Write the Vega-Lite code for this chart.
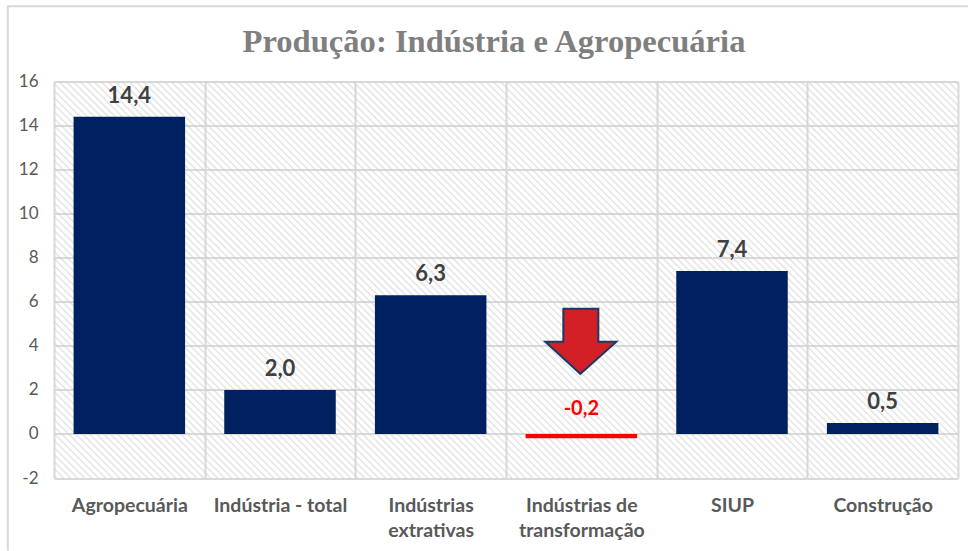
{"$schema":"https://vega.github.io/schema/vega-lite/v6.json","width":904,"height":396.5,"autosize":{"type":"none"},"padding":{"left":54,"top":81.5,"right":10,"bottom":73},"background":"#ffffff","title":{"text":"Produção: Indústria e Agropecuária","font":"Liberation Serif","fontSize":32.6,"fontWeight":"bold","color":"#7f7f7f","anchor":"middle","frame":"group","dx":-12,"offset":-56},"config":{"view":{"stroke":null}},"data":{"values":[{"categoria":"Agropecuária","valor":14.4,"rotulo":"14,4"},{"categoria":"Indústria - total","valor":2.0,"rotulo":"2,0"},{"categoria":"Indústrias extrativas","valor":6.3,"rotulo":"6,3"},{"categoria":"Indústrias de transformação","valor":-0.2,"rotulo":"-0,2"},{"categoria":"SIUP","valor":7.4,"rotulo":"7,4"},{"categoria":"Construção","valor":0.5,"rotulo":"0,5"}]},"encoding":{"x":{"field":"categoria","type":"nominal","sort":null,"title":null,"scale":{"domain":["Agropecuária","Indústria - total","Indústrias extrativas","Indústrias de transformação","SIUP","Construção"],"paddingInner":0,"paddingOuter":0},"axis":{"domain":false,"ticks":false,"grid":true,"tickBand":"extent","gridColor":"#d9d9d9","gridWidth":2,"labelAngle":0,"labelFont":"Lato","labelFontSize":19.5,"labelFontWeight":"bold","labelColor":"#595959","labelPadding":18,"labelLineHeight":25,"labelLimit":0,"labelExpr":"datum.value == 'Indústrias extrativas' ? ['Indústrias','extrativas'] : datum.value == 'Indústrias de transformação' ? ['Indústrias de','transformação'] : datum.value"}},"y":{"type":"quantitative","title":null,"scale":{"domain":[-2,16],"nice":false,"zero":false},"axis":{"values":[-2,0,2,4,6,8,10,12,14,16],"domain":false,"ticks":false,"grid":true,"gridColor":"#d9d9d9","gridWidth":2,"labelFont":"Lato","labelFontSize":17,"labelColor":"#595959","labelPadding":16,"labelExpr":"replace(datum.label,'−','-')"}}},"layer":[{"transform":[{"filter":"datum.categoria == 'Indústrias de transformação'"}],"mark":{"type":"point","size":4,"filled":false,"opacity":1,"clip":true,"stroke":"#d0d0d0","strokeOpacity":0.5,"strokeWidth":1.7,"shape":"M-930-200l400 400m-393-400l400 400m-393-400l400 400m-393-400l400 400m-393-400l400 400m-393-400l400 400m-393-400l400 400m-393-400l400 400m-393-400l400 400m-393-400l400 400m-393-400l400 400m-393-400l400 400m-393-400l400 400m-393-400l400 400m-393-400l400 400m-393-400l400 400m-393-400l400 400m-393-400l400 400m-393-400l400 400m-393-400l400 400m-393-400l400 400m-393-400l400 400m-393-400l400 400m-393-400l400 400m-393-400l400 400m-393-400l400 400m-393-400l400 400m-393-400l400 400m-393-400l400 400m-393-400l400 400m-393-400l400 400m-393-400l400 400m-393-400l400 400m-393-400l400 400m-393-400l400 400m-393-400l400 400m-393-400l400 400m-393-400l400 400m-393-400l400 400m-393-400l400 400m-393-400l400 400m-393-400l400 400m-393-400l400 400m-393-400l400 400m-393-400l400 400m-393-400l400 400m-393-400l400 400m-393-400l400 400m-393-400l400 400m-393-400l400 400m-393-400l400 400m-393-400l400 400m-393-400l400 400m-393-400l400 400m-393-400l400 400m-393-400l400 400m-393-400l400 400m-393-400l400 400m-393-400l400 400m-393-400l400 400m-393-400l400 400m-393-400l400 400m-393-400l400 400m-393-400l400 400m-393-400l400 400m-393-400l400 400m-393-400l400 400m-393-400l400 400m-393-400l400 400m-393-400l400 400m-393-400l400 400m-393-400l400 400m-393-400l400 400m-393-400l400 400m-393-400l400 400m-393-400l400 400m-393-400l400 400m-393-400l400 400m-393-400l400 400m-393-400l400 400m-393-400l400 400m-393-400l400 400m-393-400l400 400m-393-400l400 400m-393-400l400 400m-393-400l400 400m-393-400l400 400m-393-400l400 400m-393-400l400 400m-393-400l400 400m-393-400l400 400m-393-400l400 400m-393-400l400 400m-393-400l400 400m-393-400l400 400m-393-400l400 400m-393-400l400 400m-393-400l400 400m-393-400l400 400m-393-400l400 400m-393-400l400 400m-393-400l400 400m-393-400l400 400m-393-400l400 400m-393-400l400 400m-393-400l400 400m-393-400l400 400m-393-400l400 400m-393-400l400 400m-393-400l400 400m-393-400l400 400m-393-400l400 400m-393-400l400 400m-393-400l400 400m-393-400l400 400m-393-400l400 400m-393-400l400 400m-393-400l400 400m-393-400l400 400m-393-400l400 400m-393-400l400 400m-393-400l400 400m-393-400l400 400m-393-400l400 400m-393-400l400 400m-393-400l400 400m-393-400l400 400m-393-400l400 400m-393-400l400 400m-393-400l400 400m-393-400l400 400m-393-400l400 400m-393-400l400 400m-393-400l400 400m-393-400l400 400m-393-400l400 400m-393-400l400 400m-393-400l400 400m-393-400l400 400m-393-400l400 400m-393-400l400 400m-393-400l400 400m-393-400l400 400m-393-400l400 400m-393-400l400 400m-393-400l400 400m-393-400l400 400m-393-400l400 400m-393-400l400 400m-393-400l400 400m-393-400l400 400m-393-400l400 400m-393-400l400 400m-393-400l400 400m-393-400l400 400m-393-400l400 400m-393-400l400 400m-393-400l400 400m-393-400l400 400m-393-400l400 400m-393-400l400 400m-393-400l400 400m-393-400l400 400m-393-400l400 400m-393-400l400 400m-393-400l400 400m-393-400l400 400m-393-400l400 400m-393-400l400 400m-393-400l400 400m-393-400l400 400m-393-400l400 400m-393-400l400 400m-393-400l400 400m-393-400l400 400m-393-400l400 400m-393-400l400 400m-393-400l400 400m-393-400l400 400m-393-400l400 400m-393-400l400 400m-393-400l400 400m-393-400l400 400m-393-400l400 400m-393-400l400 400m-393-400l400 400m-393-400l400 400m-393-400l400 400m-393-400l400 400"},"encoding":{"y":{"datum":7,"type":"quantitative"}}},{"transform":[{"filter":"datum.categoria == 'Indústrias de transformação'"}],"mark":{"type":"point","size":4,"filled":false,"opacity":1,"clip":false,"stroke":"#d9d9d9","strokeWidth":2,"shape":"M386.5 -273.5H-573.5V271"},"encoding":{"y":{"datum":7,"type":"quantitative"}}},{"mark":{"type":"bar","width":{"band":0.74}},"encoding":{"y":{"field":"valor"},"color":{"condition":{"test":"datum.valor < 0","value":"#ff0000"},"value":"#002060"}}},{"transform":[{"filter":"datum.valor >= 0"}],"mark":{"type":"text","font":"Lato","fontSize":22,"fontWeight":"bold","color":"#404040","baseline":"alphabetic","dy":-14},"encoding":{"y":{"field":"valor"},"text":{"field":"rotulo"}}},{"transform":[{"filter":"datum.valor < 0"}],"mark":{"type":"text","font":"Lato","fontSize":20,"fontWeight":"bold","color":"#ff0000","baseline":"alphabetic","dy":-19},"encoding":{"y":{"datum":0,"type":"quantitative"},"text":{"field":"rotulo"}}},{"transform":[{"filter":"datum.valor < 0"}],"mark":{"type":"point","size":4,"filled":true,"opacity":1,"fill":"#d32027","stroke":"#1f3864","strokeWidth":2,"shape":"M-18 -37H17V-4H35L-1 28L-36 -4H-18Z"},"encoding":{"y":{"datum":4,"type":"quantitative"}}}]}
